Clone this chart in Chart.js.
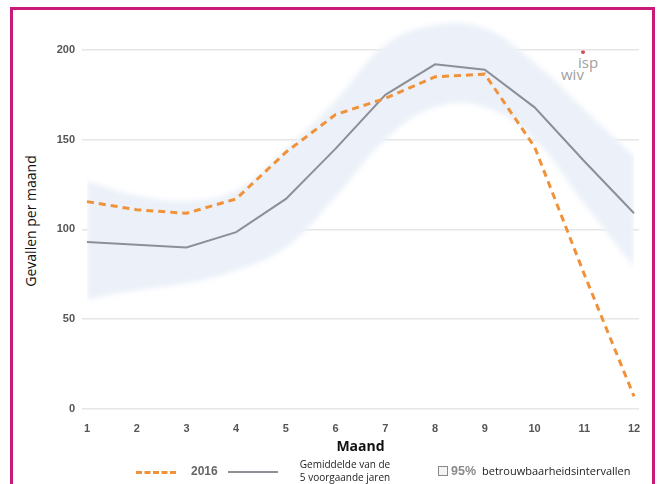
<!DOCTYPE html>
<html>
<head>
<meta charset="utf-8">
<script src="https://cdn.jsdelivr.net/npm/chart.js@4"></script>
<style>
  html, body { margin: 0; padding: 0; background: #fff; width: 659px; height: 484px; overflow: hidden; font-family: "Open Sans", sans-serif; }
  #frame { position: absolute; left: 10px; top: 7px; width: 645px; height: 540px; border: 3px solid #c81b78; box-sizing: border-box; }
  #wrap { position: absolute; left: 0; top: 0; width: 659px; height: 484px; }
  #ytitle { position: absolute; left: 30px; top: 221px; transform: translate(-50%, -50%) rotate(-90deg); white-space: nowrap; font-size: 14px; color: #111; }
  .logo { position: absolute; color: #a0a0a0; font-family: "Open Sans", sans-serif; font-size: 15px; line-height: 1; }
  .leg { position: absolute; white-space: nowrap; }
  .dash { position: absolute; height: 0; border-top: 3px dashed #f0923a; }
  .solid { position: absolute; height: 2px; background: #8c9096; }
  .box { position: absolute; width: 8px; height: 8px; border: 1.5px solid #8a8a8a; background: #f4f4f4; }
</style>
</head>
<body>
<div id="frame"></div>
<div id="ytitle">Gevallen per maand</div>
<span class="logo" style="left:578px;top:55px;">isp</span>
<span class="logo" style="left:561px;top:67px;">wiv</span>
<span style="position:absolute;left:581px;top:50px;width:4px;height:4px;border-radius:2px;background:#d04a5a;"></span>
<div id="wrap"><canvas id="c" width="659" height="484"></canvas></div>

<div class="dash" style="left:136px;top:471px;width:40px;"></div>
<div class="leg" style="left:191px;top:464px;font:bold 12px 'Liberation Sans',sans-serif;color:#666;">2016</div>
<div class="solid" style="left:228px;top:471px;width:50px;"></div>
<div class="leg" style="left:345px;top:458px;transform:translateX(-50%);text-align:center;font-size:10px;line-height:13px;color:#222;">Gemiddelde van de<br>5 voorgaande jaren</div>
<div class="box" style="left:438px;top:466px;"></div>
<div class="leg" style="left:451px;top:464px;font:bold 12.5px 'Liberation Sans',sans-serif;color:#8a8a8a;">95%</div>
<div class="leg" style="left:482px;top:463px;font-size:11px;color:#222;">betrouwbaarheidsintervallen</div>

<script>
// Monthly case counts
const months = [1, 2, 3, 4, 5, 6, 7, 8, 9, 10, 11, 12];
const cases2016 = [115.5, 111, 109, 117, 143, 164, 173, 185, 186.5, 146, 75, 7];
const mean5y = [93, 91.5, 90, 98.5, 117, 145, 175, 192, 189, 168, 138, 109];
const ciUpper = [127, 119, 116, 122, 145, 172, 203, 214, 212, 193, 167, 141];
const ciLower = [61, 66, 70, 77, 90, 118, 150, 168, 168, 150, 114, 79];
const yTicks = [0, 50, 100, 150, 200];

const pts = arr => months.map((m, i) => ({ x: m, y: arr[i] }));

// Softens the edges of the confidence band fill
const softBand = {
  id: 'softBand',
  beforeDatasetsDraw(chart) { chart.ctx.filter = 'blur(2.5px)'; },
  beforeDatasetDraw(chart, args) { if (args.index === 2) chart.ctx.filter = 'none'; },
  afterDatasetsDraw(chart) { chart.ctx.filter = 'none'; }
};

new Chart(document.getElementById('c'), {
  type: 'line',
  data: {
    datasets: [
      {
        label: '2016',
        data: pts(cases2016),
        borderColor: '#f0923a',
        borderWidth: 3,
        borderDash: [7, 5],
        pointRadius: 0,
        fill: false,
        tension: 0
      },
      {
        label: 'Gemiddelde van de 5 voorgaande jaren',
        data: pts(mean5y),
        borderColor: '#8c9096',
        borderWidth: 2,
        pointRadius: 0,
        fill: false,
        tension: 0
      },
      {
        label: '95% bovengrens',
        data: pts(ciUpper),
        borderWidth: 0,
        borderColor: 'rgba(0,0,0,0)',
        backgroundColor: '#ecf1f9',
        pointRadius: 0,
        fill: '+1',
        tension: 0.4
      },
      {
        label: '95% ondergrens',
        data: pts(ciLower),
        borderWidth: 0,
        borderColor: 'rgba(0,0,0,0)',
        pointRadius: 0,
        fill: false,
        tension: 0.4
      }
    ]
  },
  plugins: [softBand],
  options: {
    responsive: false,
    animation: false,
    layout: { padding: { left: 0, right: 20, top: 14, bottom: 27 } },
    plugins: { legend: { display: false }, tooltip: { enabled: false } },
    scales: {
      x: {
        type: 'linear',
        min: 0.9,
        max: 12.1,
        grid: { display: false, drawTicks: false },
        border: { display: false },
        afterBuildTicks: s => { s.ticks = months.map(v => ({ value: v })); },
        afterFit: s => { s.height = 48; },
        ticks: {
          padding: 13,
          color: '#555',
          font: { family: 'Liberation Sans', size: 11, weight: 'bold' },
          maxRotation: 0,
          autoSkip: false
        },
        title: {
          display: true,
          text: 'Maand',
          color: '#111',
          font: { family: 'Open Sans', size: 14, weight: 'bold' },
          padding: { top: 0, bottom: 2 }
        }
      },
      y: {
        min: 0,
        max: 220,
        grid: { color: '#e6e6e6', lineWidth: 1.5, drawTicks: false },
        border: { display: false },
        afterBuildTicks: s => { s.ticks = yTicks.map(v => ({ value: v })); },
        afterFit: s => { s.width = 82; },
        ticks: {
          padding: 7,
          color: '#555',
          font: { family: 'Liberation Sans', size: 11, weight: 'bold' }
        }
      }
    }
  }
});
</script>
</body>
</html>
